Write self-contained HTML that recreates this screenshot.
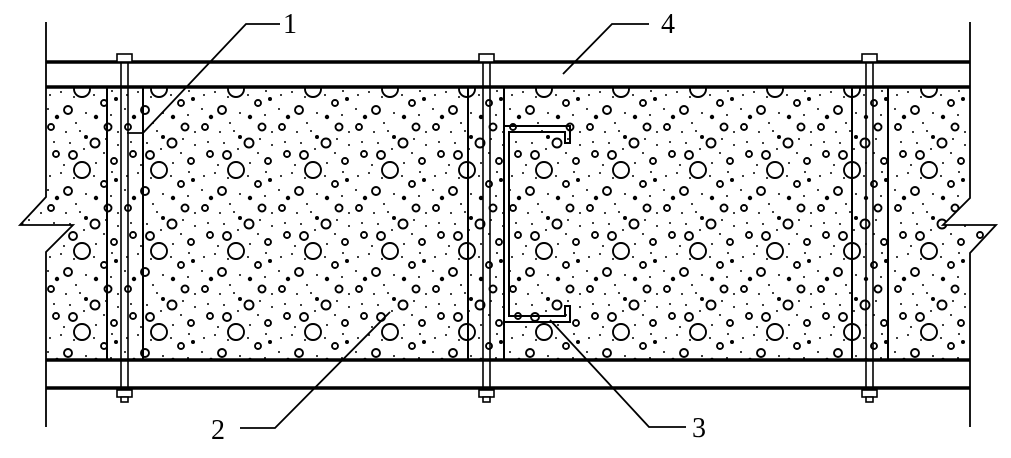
<!DOCTYPE html>
<html><head><meta charset="utf-8"><style>
html,body{margin:0;padding:0;background:#fff;}
svg{display:block;}
text{font-family:"Liberation Serif",serif;font-size:28px;fill:#000;}
</style></head><body>
<svg width="1011" height="458" viewBox="0 0 1011 458" xmlns="http://www.w3.org/2000/svg">
<defs>
<pattern id="conc" x="46" y="87" width="77" height="81" patternUnits="userSpaceOnUse">
 <g fill="none" stroke="#000" stroke-width="1.9">
  <circle cx="36" cy="2" r="8"/><circle cx="36" cy="83" r="8"/>
  <circle cx="49" cy="56" r="4.5"/>
  <circle cx="27" cy="68" r="4"/>
  <circle cx="10" cy="67" r="3"/>
  <circle cx="62" cy="40" r="3.5"/>
  <circle cx="5" cy="40" r="3"/>
  <circle cx="22" cy="23" r="4"/>
  <circle cx="68" cy="74" r="3"/>
  <circle cx="58" cy="16" r="3"/>
 </g>
 <g fill="#000">
  <circle cx="50" cy="30" r="2.2"/><circle cx="11" cy="30" r="2.2"/><circle cx="70" cy="12" r="2"/>
  <circle cx="40" cy="50" r="2"/>
  <circle cx="4" cy="8" r="1"/><circle cx="15" cy="5" r="1"/><circle cx="28" cy="10" r="1"/>
  <circle cx="48" cy="8" r="1"/><circle cx="65" cy="28" r="1"/><circle cx="30" cy="36" r="1"/>
  <circle cx="20" cy="45" r="1"/><circle cx="8" cy="55" r="1"/><circle cx="60" cy="52" r="1"/>
  <circle cx="72" cy="58" r="1"/><circle cx="38" cy="62" r="1"/><circle cx="18" cy="78" r="1"/>
  <circle cx="50" cy="76" r="1"/><circle cx="72" cy="45" r="1"/><circle cx="40" cy="26" r="1"/>
  <circle cx="24" cy="56" r="1"/><circle cx="58" cy="66" r="1"/><circle cx="2" cy="22" r="1"/>
  <circle cx="34" cy="44" r="1"/><circle cx="66" cy="4" r="1"/>
 </g>
</pattern>
</defs>
<path d="M46,87 H970 V198 L943,225 H996 L970,253 V360 H46 V252 L73,225 H20 L46,197 Z" fill="url(#conc)" stroke="none"/>
<g stroke="#000" fill="none">
 <path d="M46,22 V197 L20,225 H73 L46,252 V427" stroke-width="1.8"/>
 <path d="M970,22 V198 L943,225 H996 L970,253 V427" stroke-width="1.8"/>
 <line x1="46" y1="62" x2="970" y2="62" stroke-width="3.5"/>
 <line x1="46" y1="87" x2="970" y2="87" stroke-width="3.5"/>
 <line x1="46" y1="360" x2="970" y2="360" stroke-width="3.5"/>
 <line x1="46" y1="388" x2="970" y2="388" stroke-width="3.5"/>
 <g stroke-width="2">
  <line x1="107" y1="87" x2="107" y2="360"/><line x1="143" y1="87" x2="143" y2="360"/>
  <line x1="468" y1="87" x2="468" y2="360"/><line x1="504" y1="87" x2="504" y2="360"/>
  <line x1="852" y1="87" x2="852" y2="360"/><line x1="888" y1="87" x2="888" y2="360"/>
 </g>
 <g stroke-width="1.6" fill="#fff">
  <g id="b1">
   <rect x="117" y="54" width="15" height="8"/>
   <line x1="121" y1="62" x2="121" y2="397"/><line x1="128" y1="62" x2="128" y2="397"/>
   <rect x="117" y="390" width="15" height="7"/>
   <rect x="121" y="397" width="7" height="5"/>
  </g>
  <use href="#b1" x="362"/>
  <use href="#b1" x="745"/>
 </g>
 <path d="M504,126 H570 V143 H565 V132 H509 V316 H565 V306 H570 V322 H504" stroke-width="2" fill="none"/>
 <g stroke-width="1.8">
  <polyline points="127,133 143,133 246,24 280,24"/>
  <polyline points="563,74 612,24 649,24"/>
  <polyline points="390,312 275,428 240,428"/>
  <polyline points="550,320 649,427 686,427"/>
 </g>
</g>
<text x="283" y="33">1</text>
<text x="661" y="33">4</text>
<text x="211" y="439">2</text>
<text x="692" y="437">3</text>
</svg>
</body></html>
